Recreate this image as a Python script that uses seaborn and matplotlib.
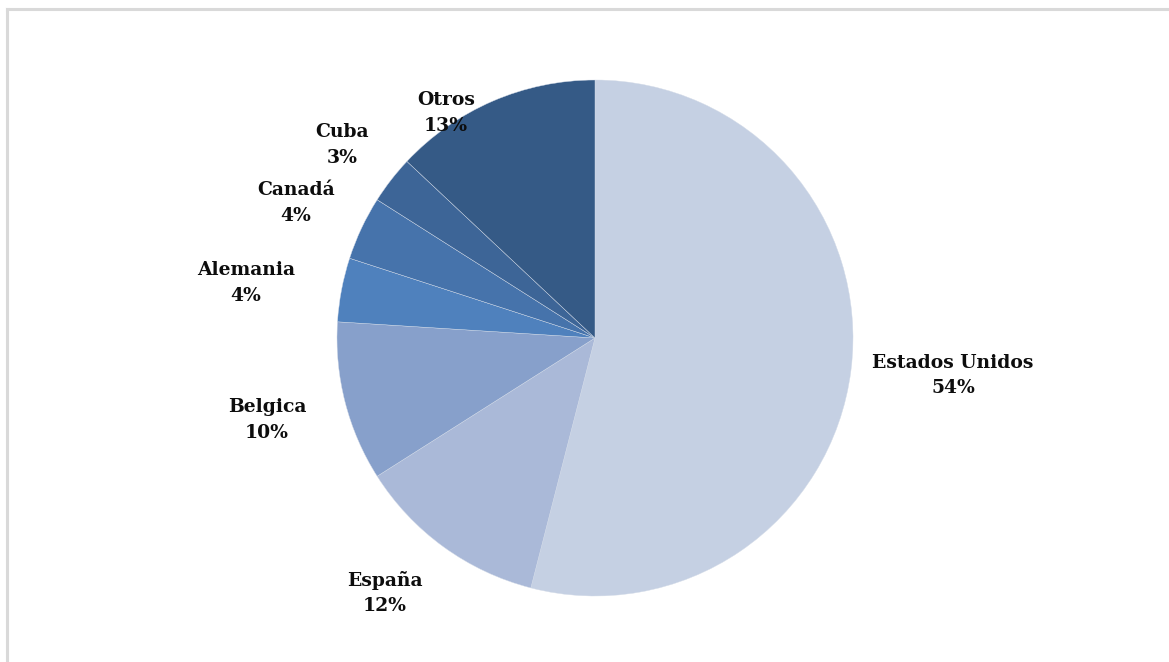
import matplotlib
matplotlib.use("Agg")
import matplotlib.pyplot as plt
import seaborn as sns

# Export destinations and their shares (%)
countries = ["Estados Unidos", "España", "Belgica", "Alemania", "Canadá", "Cuba", "Otros"]
shares = [54, 12, 10, 4, 4, 3, 13]
slice_colors = ["#C5D0E3", "#AAB9D8", "#87A0CB", "#4F81BD", "#4673AB", "#3D6597", "#355A86"]

# Label anchor points (pie radius = 1)
label_xy = {
    "Estados Unidos": (1.388, -0.145),
    "España": (-0.814, -0.988),
    "Belgica": (-1.271, -0.318),
    "Alemania": (-1.353, 0.213),
    "Canadá": (-1.159, 0.523),
    "Cuba": (-0.98, 0.748),
    "Otros": (-0.578, 0.872),
}

sns.set_theme(style="white")
plt.rcParams["font.family"] = ["DejaVu Serif"]

W, H = 1169, 662
fig = plt.figure(figsize=(W / 100, H / 100), dpi=100)
fig.patch.set_facecolor("white")

# light frame along the left and top edges
frame = fig.add_axes([7 / W, 0, 1 - 7 / W, 1 - 9 / H])
frame.set_xticks([]); frame.set_yticks([])
for side in ["right", "bottom"]:
    frame.spines[side].set_visible(False)
for side in ["left", "top"]:
    frame.spines[side].set_color("#d9d9d9")
    frame.spines[side].set_linewidth(2.2)
frame.patch.set_alpha(0)

cx, cy, R = 595, 338, 258
ax = fig.add_axes([(cx - R) / W, (H - cy - R) / H, 2 * R / W, 2 * R / H])
ax.pie(shares, colors=slice_colors, startangle=90, counterclock=False,
       radius=1, wedgeprops=dict(edgecolor="#d3dbe8", linewidth=0.3))
ax.set_xlim(-1, 1); ax.set_ylim(-1, 1)
ax.set_aspect("equal")
ax.axis("off")

for name, val in zip(countries, shares):
    x, y = label_xy[name]
    ax.text(x, y, f"{name}\n{val}%", ha="center", va="center", fontsize=13.5,
            fontweight="bold", color="#0d0d0d", linespacing=1.55, clip_on=False)

fig.savefig("out.png", dpi=100)
